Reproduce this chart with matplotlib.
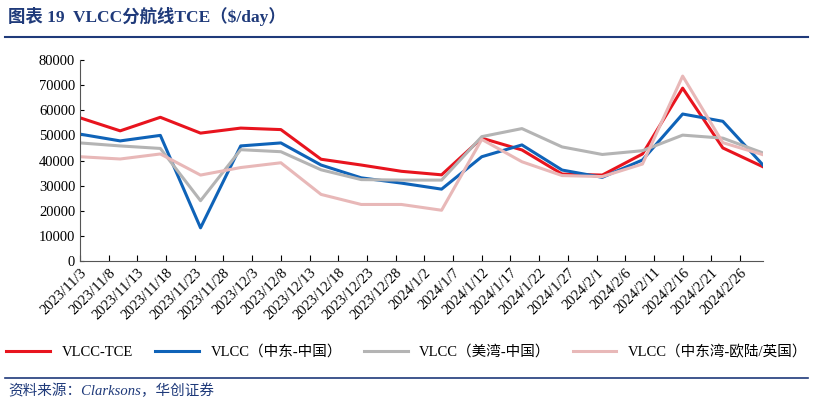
import numpy as np
import pandas as pd
import matplotlib
matplotlib.use("Agg")
import matplotlib.pyplot as plt
import matplotlib.dates as mdates

plt.rcParams['font.family'] = ['Liberation Serif', 'Noto Sans CJK SC']

dates = pd.date_range("2023-11-03", periods=18, freq="7D")
tce = [57000, 51800, 57200, 50900, 52900, 52300, 40500, 38200, 35700,
       34300, 48900, 44200, 34600, 34200, 42600, 68800, 45000, 37500]
meg_china = [50500, 47800, 50000, 13200, 45800, 47000, 38200, 33100, 31000,
             28600, 41500, 46200, 36200, 33300, 40200, 58500, 55600, 38200]
usg_china = [47000, 45800, 44800, 24000, 44300, 43500, 36300, 32400, 32200,
             32200, 49500, 52700, 45400, 42400, 43900, 50100, 48900, 43000]
meg_europe = [41500, 40600, 42600, 34200, 37200, 39100, 26500, 22500, 22500,
              20200, 48400, 39500, 34000, 33600, 38600, 73600, 47100, 42300]
tick_dates = pd.date_range("2023-11-03", "2024-02-26", freq="5D")

fig = plt.figure(figsize=(8.14, 4.05), dpi=100)
ax = fig.add_axes([80/814, 1-261/405, 683/814, 201/405])

ax.plot(dates, tce, color='#e8141e', lw=2.2, label='VLCC-TCE')
ax.plot(dates, meg_china, color='#0f63b8', lw=2.2, label='VLCC（中东-中国）')
ax.plot(dates, usg_china, color='#b4b4b4', lw=2.2, label='VLCC（美湾-中国）')
ax.plot(dates, meg_europe, color='#e8b8b8', lw=2.2, label='VLCC（中东湾-欧陆/英国）')

ax.set_xlim(dates[0], dates[-1])
ax.set_ylim(0, 80000)
ax.set_yticks(range(0, 80001, 10000))
ax.set_xticks(tick_dates)
ax.set_xticklabels([f"{d.year}/{d.month}/{d.day}" for d in tick_dates],
                   rotation=45, ha='right', rotation_mode='anchor', fontsize=10.5)
ax.tick_params(axis='y', labelsize=10.5, direction='in', length=3)
ax.tick_params(axis='x', direction='in', length=4)
for s in ['top', 'right']:
    ax.spines[s].set_visible(False)
for s in ['left', 'bottom']:
    ax.spines[s].set_color('#555555')

fig.legend(loc='center', bbox_to_anchor=(0.5, 1-352/405), ncol=4, frameon=False,
           fontsize=10.5, handlelength=3, columnspacing=1.5)

fig.text(8/814, 1-16/405, "图表 19  VLCC分航线TCE（$/day）", fontsize=12.5,
         fontweight='bold', color='#1f3a7a', va='center')
fig.add_artist(plt.Line2D([5/814, 808/814], [1-37/405]*2, color='#1f3a7a', lw=1.5))
fig.add_artist(plt.Line2D([5/814, 808/814], [1-378/405]*2, color='#1f3a7a', lw=1.2))
fig.text(8/814, 1-391/405, "资料来源：Clarksons，华创证券", fontsize=10.5,
         style='italic', color='#1f3a7a', va='center')

fig.savefig("out.png", dpi=100)
